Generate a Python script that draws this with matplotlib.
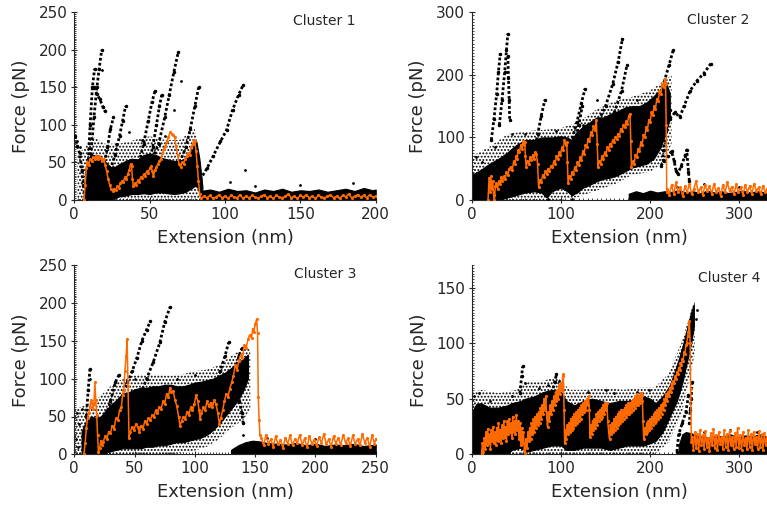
import numpy as np
import matplotlib
matplotlib.use("Agg")
import matplotlib.pyplot as plt
from matplotlib.ticker import MultipleLocator

plt.rcParams["font.family"] = ["DejaVu Sans"]
plt.rcParams["hatch.linewidth"] = 0.9

INK = "#262626"
ORANGE = "#ff6a00"

# ---------------- Cluster 1 ----------------
# dense part of the overlaid curves: (extension, lower force, upper force)
cloud1 = [(7, 0, 35), (9, 0, 55), (12, 0, 60), (15, 0, 60), (18, 0, 56), (21, 0, 50),
          (24, 0, 44), (27, 2, 44), (30, 5, 48), (34, 6, 52), (38, 8, 55), (42, 8, 54),
          (46, 9, 60), (50, 8, 62), (54, 10, 60), (58, 10, 56), (62, 9, 54), (66, 8, 52),
          (70, 9, 52), (74, 11, 56), (78, 16, 66), (81, 20, 78), (83, 10, 55), (85, 3, 18)]
haze1 = [(2, 0, 60), (7, 0, 70), (12, 0, 85), (20, 0, 75), (30, 0, 75), (40, 0, 80),
         (50, 0, 85), (60, 0, 80), (70, 0, 80), (80, 0, 95), (85, 0, 30)]
peaks1 = [
    [(7.5, 0), (9, 40), (10.5, 100), (12, 150), (13.5, 175)],
    [(9, 20), (11, 60), (13, 110), (15, 150), (16.5, 175), (18.2, 200)],
    [(13, 150), (15, 141), (17, 134), (19, 124), (20.5, 118)],
    [(20, 50), (22, 70), (24, 95), (26, 110)],
    [(24, 40), (27, 60), (30, 85), (32, 105), (34, 125)],
    [(43, 50), (46, 75), (49, 105), (51.5, 130), (53.5, 145)],
    [(49, 45), (52, 70), (54.5, 100), (56.5, 125), (58, 140)],
    [(52, 55), (56, 75), (60, 110), (63, 140), (66, 170), (69, 197)],
    [(70, 50), (74, 70), (77, 95), (80, 125), (82.5, 150)],
    [(83.5, 27), (88, 42), (92, 58), (97, 78), (101, 93), (105, 120), (109, 140), (112, 153)],
    [(0.5, 85), (2, 72), (3.5, 62), (5, 40), (6, 20), (7, 3)],
]
stray1 = [(1.5, 78), (4, 70), (18.2, 173), (71, 158), (113, 40), (103, 24), (66, 120),
          (36, 90), (28, 75), (45, 80), (120, 18), (150, 20), (185, 22), (60, 85)]
base1 = [(84, 12), (90, 14), (96, 11), (102, 15), (108, 12), (114, 13), (120, 10),
         (126, 14), (132, 12), (138, 15), (144, 11), (150, 13), (156, 12), (162, 14),
         (168, 11), (174, 13), (180, 15), (186, 12), (192, 16), (198, 13), (200, 14)]
trace1 = [(6.4, 0), (7.2, 20), (8.0, 42), (8.6, 50), (9.5, 46), (10.5, 55), (11.5, 52),
          (12.5, 57), (13.5, 55), (14.5, 59), (15.5, 54), (16.5, 58), (17.5, 56), (18.5, 52),
          (19.5, 55), (20.5, 47), (21.5, 38), (22.5, 28), (23.5, 20), (24.5, 14), (25.5, 12),
          (26.5, 15), (27.5, 13), (28.5, 18), (29.5, 16), (30.5, 22), (31.5, 25), (32.5, 24),
          (33.5, 30), (34.5, 28), (35.5, 35), (36.5, 40), (37.3, 48), (38.0, 45), (38.6, 28),
          (39.2, 18), (40.0, 22), (41.0, 20), (42.0, 26), (43.0, 24), (44.0, 30), (45.0, 29),
          (46.0, 34), (47.0, 32), (48.0, 38), (49.0, 36), (50.0, 42), (51.0, 45), (51.8, 38),
          (52.5, 32), (53.5, 40), (54.5, 44), (55.5, 48), (56.5, 52), (57.5, 55), (58.5, 62),
          (59.5, 68), (60.5, 72), (61.5, 78), (62.5, 84), (63.5, 90), (64.5, 88), (65.5, 86),
          (66.5, 84), (67.5, 72), (68.5, 60), (69.5, 48), (70.5, 44), (71.5, 50), (72.5, 48),
          (73.5, 55), (74.5, 58), (75.5, 62), (76.5, 60), (77.5, 70), (78.5, 74), (79.3, 80),
          (80.0, 78), (80.8, 65), (81.6, 45), (82.4, 25), (83.2, 8), (84.0, 2)]
tail1 = [(86, 5), (88, 3), (90, 6), (92, 2), (94, 4), (96, 7), (98, 3), (100, 5), (102, 2),
         (104, 6), (106, 4), (108, 3), (110, 7), (112, 2), (114, 5), (116, 3), (118, 6),
         (120, 4), (122, 2), (124, 5), (126, 7), (128, 3), (130, 5), (132, 2), (134, 6),
         (136, 4), (138, 3), (140, 5), (142, 8), (144, 3), (146, 5), (148, 2), (150, 6),
         (152, 4), (154, 7), (156, 3), (158, 5), (160, 2), (162, 6), (164, 4), (166, 3),
         (168, 5), (170, 7), (172, 3), (174, 5), (176, 2), (178, 6), (180, 4), (182, 8),
         (184, 3), (186, 5), (188, 7), (190, 4), (192, 6), (194, 3), (196, 7), (198, 4), (200, 5)]

# ---------------- Cluster 2 ----------------
cloud2 = [(0, 0, 40), (10, 0, 48), (20, 0, 58), (30, 0, 66), (40, 4, 76), (50, 8, 88),
          (60, 12, 96), (70, 14, 96), (78, 12, 100), (84, 4, 100), (90, 14, 100),
          (100, 20, 102), (107, 14, 100), (112, 8, 96), (118, 12, 108), (125, 20, 118),
          (132, 24, 124), (140, 30, 132), (148, 34, 132), (156, 36, 138), (164, 40, 142),
          (172, 46, 148), (180, 52, 150), (188, 55, 150), (196, 58, 156), (204, 66, 166),
          (212, 85, 178), (218, 110, 188), (222, 130, 170)]
haze2 = [(0, 0, 70), (20, 0, 85), (40, 0, 105), (60, 0, 110), (80, 0, 112), (100, 0, 115),
         (120, 5, 125), (140, 15, 145), (160, 25, 158), (180, 40, 165), (200, 45, 175),
         (215, 60, 190), (224, 90, 200)]
peaks2 = [
    [(22, 96), (25, 130), (28, 170), (30, 205), (32, 234)],
    [(31, 120), (34, 160), (37, 205), (39, 240), (40.5, 266)],
    [(40.5, 230), (41.2, 195), (42, 160), (42.6, 128)],
    [(70, 80), (74, 105), (78, 135), (82, 160)],
    [(108, 75), (113, 100), (118, 125), (123, 155), (127, 178)],
    [(112, 70), (116, 95), (120, 120), (124, 150)],
    [(140, 120), (150, 150), (158, 185), (164, 220), (169, 258)],
    [(150, 110), (160, 140), (168, 175), (174, 215)],
    [(200, 120), (210, 160), (216, 190), (221, 215), (226, 240)],
    [(222, 144), (218, 110), (215, 80), (214, 64)],
    [(222, 130), (228, 140), (233, 132), (238, 150), (245, 175), (252, 190), (260, 202), (268, 218)],
    [(212, 55), (216, 62), (220, 70), (224, 78), (227, 62), (229, 47), (231, 42), (235, 55),
     (239, 70), (241, 80), (243, 45), (244, 30)],
    [(108, 16), (112, 10), (118, 14), (124, 22), (130, 35), (136, 42)],
]
stray2 = [(5, 68), (12, 60), (26, 85), (45, 105), (60, 105), (95, 110), (112, 2), (125, 120),
          (140, 160), (185, 160), (230, 20), (260, 25), (300, 20), (85, 2)]
base2 = [(176, 10), (184, 14), (192, 11), (200, 15), (208, 12), (216, 14), (224, 13),
         (232, 16), (240, 12), (248, 14), (256, 11), (264, 15), (272, 12), (280, 14),
         (288, 11), (296, 13), (304, 15), (312, 12), (320, 14), (331, 12)]
trace2 = [(18.3, 0), (19.5, 35), (20.5, 12), (21.5, 38), (22.5, 18), (23.5, 30), (24.5, 8),
          (25.5, 0), (26.5, 22), (27.6, 27), (29, 18), (30.5, 30), (32, 26), (33, 37),
          (34.5, 30), (36, 38), (37.5, 33), (39, 45), (40.5, 40), (42, 50), (44, 53),
          (45.5, 48), (47, 62), (48.5, 58), (50, 70), (51, 66), (52, 80), (53.5, 76), (55, 88),
          (56.5, 82), (57.5, 95), (58.5, 88), (59.4, 92), (60.2, 70), (61, 53), (62.5, 62),
          (64, 58), (65.5, 68), (67, 64), (68.5, 72), (70, 66), (71.5, 76), (72.5, 74),
          (73.8, 58), (75, 21), (76.5, 32), (78, 28), (79.5, 40), (81, 36), (82.5, 46),
          (84, 42), (85.5, 50), (87, 47), (89, 55), (90.5, 52), (92, 62), (93.5, 58), (95, 70),
          (96.5, 66), (98, 76), (99.5, 72), (101, 84), (102.5, 80), (104, 96), (105.5, 88),
          (106.5, 92), (107.3, 60), (108, 27), (109.5, 38), (111, 33), (112.5, 45), (114, 42),
          (115.5, 52), (117, 48), (118.5, 60), (120, 56), (121.5, 68), (123, 64), (124.5, 78),
          (126, 74), (127.5, 88), (129, 84), (130.5, 98), (132, 94), (133.5, 108), (135, 104),
          (136.5, 118), (138, 112), (139.7, 128), (140.6, 90), (141.6, 53), (143, 62),
          (144.5, 58), (146, 70), (147.5, 66), (149, 76), (150.5, 72), (152, 84), (153.5, 80),
          (155, 90), (156.5, 86), (158, 96), (159.5, 92), (161, 100), (162.5, 98), (164, 106),
          (165.5, 102), (167, 114), (168.5, 110), (170, 120), (171.5, 116), (173, 126),
          (174.5, 122), (176, 134), (177.5, 138), (178.3, 95), (179, 53), (180.5, 62),
          (182, 58), (183.5, 72), (185, 68), (186.5, 82), (188, 78), (189.5, 92), (191, 88),
          (192.5, 104), (194, 100), (195.5, 116), (197, 112), (198.5, 128), (200, 124),
          (201.5, 140), (203, 136), (204.5, 150), (206, 146), (207.5, 162), (209, 158),
          (210.5, 174), (212, 170), (213.5, 186), (215, 180), (216.3, 194), (217.3, 185),
          (218, 120), (218.6, 12)]
tail2 = [(219, 18), (221.5, 8), (224, 24), (226.5, 10), (229, 28), (231.5, 12), (234, 20),
         (236.5, 6), (239, 22), (241.5, 12), (244, 26), (246.5, 9), (249, 18), (251.5, 30),
         (254, 12), (256.5, 20), (259, 8), (261.5, 24), (264, 14), (266.5, 22), (269, 10),
         (271.5, 26), (274, 13), (276.5, 19), (279, 7), (281.5, 24), (284, 12), (286.5, 28),
         (289, 15), (291.5, 21), (294, 9), (296.5, 25), (299, 12), (301.5, 20), (304, 8),
         (306.5, 24), (309, 13), (311.5, 22), (314, 10), (316.5, 26), (319, 14), (321.5, 20),
         (324, 9), (326.5, 23), (329, 12), (331, 18)]

# ---------------- Cluster 3 ----------------
cloud3 = [(6, 0, 30), (10, 0, 45), (14, 0, 50), (18, 0, 48), (22, 0, 50), (26, 2, 58),
          (30, 4, 65), (35, 6, 72), (40, 8, 80), (45, 8, 82), (50, 8, 86), (55, 8, 88),
          (60, 10, 88), (65, 10, 90), (70, 12, 90), (75, 12, 92), (80, 14, 92), (85, 16, 90),
          (90, 16, 90), (95, 18, 92), (100, 20, 95), (105, 22, 96), (110, 26, 98),
          (115, 32, 100), (120, 40, 104), (125, 50, 108), (130, 60, 114), (135, 70, 120),
          (140, 84, 126), (144, 100, 132)]
haze3 = [(0, 0, 60), (10, 0, 65), (20, 0, 75), (30, 0, 90), (40, 0, 100), (50, 0, 105),
         (60, 0, 105), (70, 0, 105), (80, 0, 104), (90, 2, 106), (100, 5, 110),
         (110, 10, 112), (120, 20, 118), (130, 35, 130), (140, 45, 140), (146, 60, 140)]
peaks3 = [
    [(10, 50), (11.5, 85), (13, 113)],
    [(25, 45), (30, 70), (34, 95), (37, 105)],
    [(38, 70), (44, 95), (48, 110), (52, 128), (56, 150), (60, 165), (63, 176)],
    [(55, 80), (60, 100), (65.5, 122), (71, 148), (75, 175), (79.5, 195)],
    [(112, 70), (117, 90), (121, 110), (125, 130), (128, 148)],
    [(125, 75), (130, 95), (134, 115), (137, 132), (139, 140)],
    [(135, 90), (137, 70), (139, 55), (140, 42)],
]
stray3 = [(2, 55), (4, 40), (6, 60), (1, 20), (3, 10), (13, 100), (50, 100), (85, 100),
          (100, 105), (140, 25), (160, 22), (200, 20)]
base3 = [(130, 6), (136, 12), (142, 16), (148, 18), (154, 17), (160, 15), (168, 14),
         (176, 13), (184, 15), (192, 12), (200, 14), (208, 11), (216, 13), (224, 12),
         (232, 14), (240, 11), (250, 13)]
trace3 = [(8, 0), (9, 15), (10, 35), (11, 48), (12, 55), (13, 62), (13.8, 72), (14.6, 68),
          (15.4, 60), (16.2, 66), (17.1, 95), (17.8, 72), (18.6, 52), (19.3, 25), (20, 3),
          (21, 8), (22, 18), (23, 12), (24, 16), (25.5, 24), (27, 20), (28.5, 30), (30, 28),
          (31.5, 38), (33, 34), (34.5, 48), (36, 45), (37.5, 58), (39, 62), (40, 78), (41, 85),
          (42, 110), (43, 130), (43.8, 153), (44.6, 90), (45.4, 22), (46.5, 30), (48, 36),
          (49.5, 32), (51, 40), (52.5, 36), (54, 30), (55.5, 38), (57, 34), (58.5, 44),
          (60, 40), (61.5, 48), (63, 45), (64.5, 52), (66, 50), (67.5, 58), (69, 54),
          (70.5, 62), (72, 60), (73.5, 70), (75, 66), (76.5, 80), (78, 76), (79.4, 88),
          (80.5, 82), (82, 84), (83.5, 72), (85, 64), (86.5, 50), (87.7, 38), (89, 44),
          (90.5, 50), (92, 47), (93.5, 56), (95, 52), (96.5, 62), (98, 58), (99.5, 66),
          (101, 78), (102.5, 70), (103.5, 58), (104.3, 47), (105.5, 55), (107, 62),
          (108.5, 58), (110, 70), (111.5, 64), (113, 68), (114.5, 62), (116, 72),
          (117.5, 66), (119, 55), (120.3, 40), (121.5, 48), (123, 58), (124.5, 70), (126, 80),
          (127.5, 76), (129, 87), (130.5, 95), (132, 104), (133.5, 118), (135, 112),
          (136.5, 124), (138, 132), (139.5, 128), (141, 144), (142.5, 140), (144, 152),
          (145.5, 158), (147, 154), (148, 166), (149, 162), (150, 172), (151.3, 179),
          (152, 160), (152.6, 76), (153.3, 45), (154, 25)]
tail3 = [(155, 22), (157, 12), (159, 26), (161, 14), (163, 20), (165, 10), (167, 24),
         (169, 13), (171, 19), (173, 8), (175, 22), (177, 14), (179, 25), (181, 12),
         (183, 20), (185, 15), (187, 26), (189, 12), (191, 21), (193, 9), (195, 24),
         (197, 14), (199, 19), (201, 11), (203, 23), (205, 15), (207, 27), (209, 13),
         (211, 20), (213, 10), (215, 24), (217, 14), (219, 22), (221, 12), (223, 26),
         (225, 15), (227, 21), (229, 11), (231, 25), (233, 14), (235, 20), (237, 12),
         (239, 27), (241, 15), (243, 22), (245, 10), (247, 25), (249, 14), (250, 20)]

# ---------------- Cluster 4 ----------------
cloud4 = [(0, 0, 38), (5, 0, 45), (10, 0, 46), (15, 0, 44), (20, 0, 42), (30, 0, 42),
          (40, 0, 44), (45, 4, 46), (55, 6, 48), (60, 2, 50), (70, 4, 52), (80, 6, 56),
          (90, 8, 58), (100, 8, 56), (106, 4, 48), (115, 4, 44), (125, 6, 48),
          (135, 6, 50), (145, 6, 48), (155, 4, 46), (165, 6, 48), (175, 8, 48),
          (185, 8, 50), (193, 8, 52), (200, 10, 50), (206, 12, 46), (214, 20, 52),
          (222, 34, 62), (230, 48, 80), (236, 64, 96), (241, 82, 112), (246, 100, 128),
          (249, 115, 135)]
haze4 = [(0, 0, 55), (10, 0, 58), (30, 0, 55), (50, 0, 58), (60, 0, 66), (80, 0, 66),
         (95, 0, 70), (110, 0, 58), (130, 0, 58), (150, 0, 60), (170, 0, 58), (190, 0, 60),
         (205, 0, 60), (220, 10, 72), (235, 35, 100), (250, 90, 140)]
peaks4 = [
    [(54, 55), (56, 70), (57, 79)],
    [(90, 55), (93, 65), (95, 72)],
    [(243, 53), (240, 38), (236, 28), (232, 18), (230, 2)],
    [(247, 65), (246, 50), (245, 40), (244, 28)],
]
stray4 = [(3, 52), (8, 55), (20, 48), (45, 52), (60, 64), (75, 60), (85, 62), (98, 66),
          (130, 56), (150, 58), (160, 55), (185, 56), (199, 58), (252, 130), (251, 122),
          (260, 20), (290, 22), (320, 20), (235, 10), (240, 5), (238, 15)]
base4 = [(232, 8), (236, 18), (240, 20), (246, 19), (252, 17), (258, 16), (266, 15),
         (274, 17), (282, 16), (290, 18), (298, 15), (306, 17), (314, 16), (322, 18), (331, 16)]
trace4 = [(11, 0), (12, 10), (13, 2), (14, 15), (15, 5), (16, 20), (17, 8), (18, 23), (19, 10),
          (20, 18), (21, 5), (22, 22), (23, 12), (24, 25), (25, 10), (26, 20), (27, 8),
          (28, 24), (29, 12), (30, 28), (31, 14), (32, 22), (33, 10), (34, 26), (35, 15),
          (36, 30), (37, 16), (38, 25), (39, 12), (40, 30), (41, 18), (42, 32), (43, 20),
          (44, 28), (45, 15), (46, 34), (47, 20), (48, 30), (49, 18), (50, 35), (51, 22),
          (52, 30), (53, 14), (54, 28), (55, 8), (56, 24), (57, 10), (58, 20), (59, 4),
          (60, 1), (61, 14), (62, 6), (63, 20), (64, 12), (65, 24), (66, 14), (67, 28),
          (68, 18), (69, 32), (70, 20), (71, 34), (72, 24), (73, 36), (74, 26), (75, 38),
          (76, 28), (77, 42), (78, 32), (79, 44), (80, 36), (81, 50), (82, 40), (83, 52),
          (84, 34), (85, 25), (86, 38), (87, 30), (88, 44), (89, 36), (90, 48), (91, 40),
          (92, 52), (93, 44), (94, 56), (95, 48), (96, 58), (97, 50), (98, 62), (99, 54),
          (100, 64), (101, 58), (102, 70), (102.8, 72), (103.5, 40), (104.2, 10), (105, 22),
          (106, 14), (107, 26), (108, 18), (109, 28), (110, 20), (111, 32), (112, 22),
          (113, 34), (114, 24), (115, 36), (116, 26), (117, 38), (118, 28), (119, 40),
          (120, 30), (121, 42), (122, 32), (123, 44), (124, 36), (125, 46), (126, 38),
          (127, 48), (128, 40), (129, 50), (130, 44), (131, 52), (131.8, 40), (132.7, 16),
          (133.5, 26), (134.5, 18), (135.5, 30), (136.5, 22), (137.5, 32), (138.5, 24),
          (139.5, 36), (140.5, 26), (141.5, 38), (142.5, 30), (143.5, 40), (144.5, 32),
          (145.5, 42), (146.5, 34), (147.5, 44), (148.5, 36), (149.5, 46), (150.5, 40),
          (151.5, 46), (152.5, 30), (153.5, 20), (154.5, 14), (155.5, 26), (156.5, 18),
          (157.5, 28), (158.5, 20), (159.5, 32), (160.5, 22), (161.5, 34), (162.5, 24),
          (163.5, 36), (164.5, 26), (165.5, 38), (166.5, 28), (167.5, 40), (168.5, 30),
          (169.5, 40), (170.5, 32), (171.5, 42), (172.5, 34), (173.5, 44), (174.5, 36),
          (175.5, 46), (176.5, 36), (177.5, 46), (178.5, 38), (179.5, 48), (180.5, 40),
          (181.5, 50), (182.5, 42), (183.5, 52), (184.5, 44), (185.5, 54), (186.5, 44),
          (187.5, 52), (188.5, 46), (189.5, 55), (190.5, 48), (191.2, 53), (192, 30),
          (192.8, 14), (194, 24), (195, 18), (196, 28), (197, 20), (198, 30), (199, 22),
          (200, 32), (201, 24), (202, 34), (203, 26), (204, 36), (205, 28), (206, 38),
          (207, 30), (208, 40), (209, 32), (210, 42), (211, 34), (212, 44), (213, 36),
          (214, 46), (215, 40), (216, 50), (217, 44), (218, 54), (219, 48), (220, 56),
          (221, 52), (222, 60), (223, 56), (224, 64), (225, 60), (226, 66), (227, 64),
          (228, 70), (229, 68), (230, 74), (231, 72), (232, 78), (233, 76), (234, 82),
          (235, 80), (236, 86), (237, 84), (238, 92), (239, 90), (240, 98), (241, 100),
          (242, 106), (243, 110), (244, 120), (244.8, 100), (245.5, 59), (246.2, 11)]
tail4 = [(247, 16), (248.5, 4), (250, 20), (251.5, 6), (253, 18), (254.5, 3), (256, 22),
         (257.5, 8), (259, 17), (260.5, 5), (262, 21), (263.5, 7), (265, 15), (266.5, 3),
         (268, 19), (269.5, 8), (271, 23), (272.5, 6), (274, 17), (275.5, 4), (277, 20),
         (278.5, 9), (280, 16), (281.5, 5), (283, 22), (284.5, 7), (286, 18), (287.5, 4),
         (289, 21), (290.5, 8), (292, 16), (293.5, 5), (295, 19), (296.5, 7), (298, 24),
         (299.5, 6), (301, 17), (302.5, 4), (304, 20), (305.5, 8), (307, 15), (308.5, 5),
         (310, 22), (311.5, 7), (313, 18), (314.5, 4), (316, 20), (317.5, 9), (319, 16),
         (320.5, 5), (322, 21), (323.5, 7), (325, 18), (326.5, 4), (328, 19), (329.5, 8),
         (331, 16)]

titles = ["Cluster 1", "Cluster 2", "Cluster 3", "Cluster 4"]
x_limits = [(0, 200), (0, 331), (0, 250), (0, 331)]
y_limits = [(0, 250), (0, 300), (0, 250), (0, 170)]
x_ticks = [[0, 50, 100, 150, 200], [0, 100, 200, 300], [0, 50, 100, 150, 200, 250], [0, 100, 200, 300]]
y_ticks = [[0, 50, 100, 150, 200, 250], [0, 100, 200, 300], [0, 50, 100, 150, 200, 250], [0, 50, 100, 150]]

panels = [
    dict(cloud=cloud1, haze=haze1, peaks=peaks1, stray=stray1, base=base1, trace=trace1 + tail1),
    dict(cloud=cloud2, haze=haze2, peaks=peaks2, stray=stray2, base=base2, trace=trace2 + tail2),
    dict(cloud=cloud3, haze=haze3, peaks=peaks3, stray=stray3, base=base3, trace=trace3 + tail3),
    dict(cloud=cloud4, haze=haze4, peaks=peaks4, stray=stray4, base=base4, trace=trace4 + tail4),
]

W, H = 767, 508
rects = [
    [74.3 / W, (H - 200.0) / H, 301.4 / W, 187.7 / H],
    [471.7 / W, (H - 200.0) / H, 295.3 / W, 187.7 / H],
    [74.3 / W, (H - 454.3) / H, 301.4 / W, 189.0 / H],
    [471.7 / W, (H - 454.3) / H, 295.3 / W, 189.0 / H],
]
title_pos = [(0.828, 0.955), (0.835, 0.959), (0.832, 0.954), (0.871, 0.931)]

fig = plt.figure(figsize=(W / 100, H / 100), dpi=100)

for i, p in enumerate(panels):
    ax = fig.add_axes(rects[i])

    # sparse outskirts of the curve cloud, drawn as a stipple
    hx, hlo, hhi = zip(*p["haze"])
    ax.fill_between(hx, hlo, hhi, facecolor="none", edgecolor="black",
                    hatch=".....", linewidth=0, zorder=1)

    cx, clo, chi = zip(*p["cloud"])
    ax.fill_between(cx, clo, chi, color="black", linewidth=0.8, zorder=2)

    bx, btop = zip(*p["base"])
    ax.fill_between(bx, 0, btop, color="black", linewidth=0.8, zorder=2)

    for seg in p["peaks"]:
        sx, sy = zip(*seg)
        ax.plot(sx, sy, color="black", lw=2.0, ls=(0, (1, 0.8)), marker=".", ms=3, zorder=3)

    px_, py_ = zip(*p["stray"])
    ax.scatter(px_, py_, s=4, color="black", linewidths=0, zorder=3)

    tx, ty = zip(*p["trace"])
    ax.plot(tx, ty, color=ORANGE, lw=1.1, marker=".", ms=2.5, zorder=5)

    ax.set_xlim(*x_limits[i])
    ax.set_ylim(*y_limits[i])
    ax.set_xticks(x_ticks[i])
    ax.set_yticks(y_ticks[i])
    ax.xaxis.set_minor_locator(MultipleLocator(x_ticks[i][1] / 20))
    ax.yaxis.set_minor_locator(MultipleLocator(y_ticks[i][1] / 20))

    for side in ("top", "right"):
        ax.spines[side].set_visible(False)
    for side in ("left", "bottom"):
        ax.spines[side].set_color(INK)
        ax.spines[side].set_linewidth(0.8)
    ax.tick_params(which="major", direction="inout", length=4, width=0.8,
                   colors=INK, labelsize=11, pad=3)
    ax.tick_params(which="minor", direction="in", length=1.5, width=0.6, colors=INK)

    ax.set_xlabel("Extension (nm)", fontsize=13, color=INK, labelpad=5)
    ax.set_ylabel("Force (pN)", fontsize=13, color=INK, labelpad=6)
    ax.text(*title_pos[i], titles[i], transform=ax.transAxes, ha="center", va="center",
            fontsize=10, color=INK)

fig.savefig("out.png", dpi=100)
